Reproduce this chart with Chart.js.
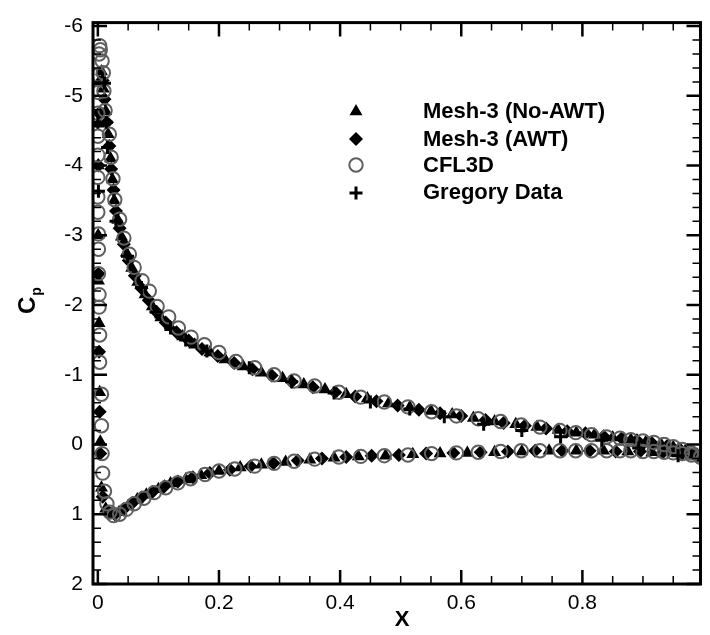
<!DOCTYPE html>
<html>
<head>
<meta charset="utf-8">
<script src="https://cdn.jsdelivr.net/npm/chart.js@4.4.1/dist/chart.umd.min.js"></script>
<style>
html,body{margin:0;padding:0;background:#fff;}
#c{display:block;}
</style>
</head>
<body>
<canvas id="c" width="710" height="635"></canvas>
<script>
// ---------------- data ----------------
const seriesNames = ["Mesh-3 (No-AWT)", "Mesh-3 (AWT)", "CFL3D", "Gregory Data"];
const xTickValues = [0, 0.2, 0.4, 0.6, 0.8, 1];
const xTickLabels = ["0", "0.2", "0.4", "0.6", "0.8", "1"];
const yTickValues = [-6, -5, -4, -3, -2, -1, 0, 1, 2];
const yTickLabels = ["-6", "-5", "-4", "-3", "-2", "-1", "0", "1", "2"];

// Mesh-3 (No-AWT)
const noAwtX = [0.99,0.97,0.95,0.93,0.905,0.88,0.85,0.82,0.79,0.76,0.725,0.69,0.655,0.62,0.585,0.55,0.515,0.48,0.445,0.41,0.375,0.34,0.305,0.27,0.24,0.21,0.185,0.16,0.14,0.12,0.104,0.09,0.078,0.066,0.056,0.047,0.039,0.033,0.027,0.024,0.021,0.017,0.013,0.009,0.006,
  0.002,0.001,0.0005,0.0005,0.001,0.002,0.003,0.004,0.006,
  0.013,0.022,0.035,0.05,0.065,0.08,0.1,0.12,0.145,0.17,0.2,0.235,0.27,0.31,0.35,0.39,0.43,0.475,0.52,0.565,0.61,0.655,0.7,0.745,0.79,0.835,0.875,0.915,0.95,0.98];
const noAwtCp = [0.15,0.09,0.04,0.0,-0.04,-0.07,-0.1,-0.14,-0.17,-0.21,-0.25,-0.29,-0.33,-0.38,-0.43,-0.48,-0.53,-0.59,-0.66,-0.72,-0.79,-0.86,-0.95,-1.03,-1.12,-1.22,-1.32,-1.43,-1.55,-1.68,-1.82,-1.98,-2.15,-2.33,-2.53,-2.75,-2.98,-3.22,-3.5,-3.8,-4.1,-4.45,-4.78,-5.1,-5.35,
  -5.2,-4.6,-4.0,-3.0,-2.35,-1.74,-0.75,-0.04,0.62,
  0.92,1.0,0.97,0.88,0.79,0.72,0.64,0.56,0.5,0.44,0.38,0.33,0.29,0.25,0.22,0.19,0.17,0.16,0.14,0.13,0.12,0.11,0.1,0.09,0.09,0.09,0.1,0.11,0.12,0.15];

// Mesh-3 (AWT)
const awtX = [0.985,0.96,0.94,0.915,0.89,0.865,0.835,0.805,0.775,0.74,0.705,0.67,0.64,0.6,0.565,0.53,0.495,0.46,0.425,0.392,0.355,0.32,0.287,0.255,0.225,0.198,0.172,0.15,0.13,0.112,0.097,0.084,0.072,0.061,0.051,0.043,0.036,0.03,0.026,0.022,0.019,0.015,0.011,0.008,
  0.002,0.001,0.001,0.002,0.003,0.004,0.008,
  0.017,0.028,0.042,0.057,0.072,0.09,0.11,0.132,0.157,0.185,0.218,0.252,0.29,0.33,0.37,0.41,0.452,0.497,0.542,0.587,0.632,0.677,0.722,0.767,0.812,0.855,0.895,0.933,0.965,0.99];
const awtCp = [0.13,0.06,0.02,-0.02,-0.06,-0.09,-0.12,-0.16,-0.19,-0.23,-0.27,-0.31,-0.35,-0.41,-0.45,-0.5,-0.56,-0.62,-0.69,-0.75,-0.82,-0.9,-0.99,-1.08,-1.17,-1.27,-1.37,-1.49,-1.61,-1.75,-1.9,-2.07,-2.24,-2.42,-2.64,-2.87,-3.1,-3.35,-3.65,-3.95,-4.28,-4.62,-4.95,-5.22,
  -4.75,-4.0,-2.45,-1.33,-0.47,0.13,0.75,
  0.96,1.0,0.93,0.84,0.76,0.68,0.6,0.53,0.47,0.41,0.36,0.31,0.27,0.23,0.2,0.18,0.16,0.15,0.13,0.12,0.11,0.1,0.09,0.09,0.09,0.1,0.1,0.11,0.13,0.16];

// CFL3D
const cfl3dX = [0.995,0.98,0.965,0.95,0.935,0.918,0.9,0.88,0.862,0.84,0.815,0.789,0.763,0.73,0.699,0.665,0.628,0.592,0.551,0.512,0.473,0.434,0.398,0.358,0.324,0.291,0.259,0.228,0.2,0.176,0.154,0.133,0.117,0.098,0.085,0.073,0.06,0.052,0.043,0.036,0.028,0.025,0.022,0.019,0.012,0.010,0.009,0.007,0.004,
  0.003,0.002,0.001,0.0,0.0,0.0,0.0,0.0,0.0,0.0,0.001,0.001,0.001,0.002,0.002,0.003,0.003,0.006,0.006,0.007,0.008,0.011,0.015,0.02,0.026,
  0.036,0.047,0.06,0.076,0.093,0.112,0.132,0.153,0.177,0.2,0.226,0.259,0.291,0.324,0.358,0.398,0.434,0.473,0.512,0.551,0.592,0.628,0.665,0.699,0.73,0.763,0.789,0.815,0.84,0.862,0.88,0.9,0.918,0.935,0.95,0.965,0.98,0.995];
const cfl3dCp = [0.18,0.12,0.07,0.03,0.0,-0.03,-0.05,-0.07,-0.09,-0.11,-0.14,-0.17,-0.2,-0.25,-0.28,-0.33,-0.37,-0.41,-0.47,-0.54,-0.61,-0.68,-0.75,-0.84,-0.91,-1.0,-1.1,-1.19,-1.32,-1.43,-1.54,-1.67,-1.83,-1.98,-2.2,-2.35,-2.54,-2.73,-2.96,-3.23,-3.51,-3.81,-4.12,-4.45,-4.79,-5.07,-5.33,-5.5,-5.66,
  -5.72,-5.6,-5.3,-5.05,-4.75,-4.42,-4.15,-3.83,-3.55,-3.33,-3.02,-2.8,-2.45,-2.15,-1.97,-1.57,-1.18,-0.72,-0.27,0.13,0.41,0.67,0.85,0.97,1.02,
  1.0,0.93,0.85,0.77,0.69,0.62,0.55,0.49,0.43,0.38,0.35,0.31,0.27,0.24,0.21,0.18,0.17,0.16,0.15,0.13,0.12,0.11,0.1,0.09,0.09,0.09,0.09,0.09,0.09,0.09,0.09,0.1,0.1,0.11,0.12,0.13,0.15,0.18];

// Gregory Data
const gregX = [0.0,0.001,0.011,0.014,0.016,0.03,0.049,0.072,0.096,0.12,0.145,0.18,0.25,0.32,0.39,0.45,0.515,0.572,0.637,0.70,0.764,0.832,0.893,0.958];
const gregCp = [-4.62,-3.63,-5.18,-4.62,-4.26,-3.2,-2.7,-2.25,-1.9,-1.67,-1.5,-1.34,-1.1,-0.9,-0.74,-0.61,-0.51,-0.4,-0.29,-0.2,-0.11,-0.06,0.05,0.16];

// --------------- chart -----------------
const toPts = (xs, ys) => xs.map((v, i) => ({x: v, y: ys[i]}));
const FONT = "'Liberation Sans', Arial, Helvetica, sans-serif";
const CIRCLE_GRAY = '#5f5f5f';

const framePlugin = {
  id: 'frame',
  afterDraw(chart) {
    const {ctx, chartArea: a, scales: {x, y}} = chart;
    ctx.save();
    ctx.strokeStyle = '#000';
    // minor ticks
    ctx.lineWidth = 1.5;
    ctx.beginPath();
    for (let k = 0; k <= 20; k++) {
      if (k % 4 === 0) continue;
      const px = x.getPixelForValue(k * 0.05);
      if (px < a.left || px > a.right) continue;
      ctx.moveTo(px, a.bottom); ctx.lineTo(px, a.bottom - 8);
      ctx.moveTo(px, a.top); ctx.lineTo(px, a.top + 8);
    }
    for (let k = -30; k <= 10; k++) {
      if (k % 5 === 0) continue;
      const py = y.getPixelForValue(k * 0.2);
      if (py < a.top || py > a.bottom) continue;
      ctx.moveTo(a.left, py); ctx.lineTo(a.left + 8, py);
      ctx.moveTo(a.right, py); ctx.lineTo(a.right - 8, py);
    }
    ctx.stroke();
    // major ticks
    ctx.lineWidth = 2.5;
    ctx.beginPath();
    xTickValues.forEach(v => {
      const px = x.getPixelForValue(v);
      if (px < a.left || px > a.right) return;
      ctx.moveTo(px, a.bottom); ctx.lineTo(px, a.bottom - 14);
      ctx.moveTo(px, a.top); ctx.lineTo(px, a.top + 14);
    });
    yTickValues.forEach(v => {
      const py = y.getPixelForValue(v);
      if (py < a.top - 1 || py > a.bottom + 1) return;
      ctx.moveTo(a.left, py); ctx.lineTo(a.left + 14, py);
      ctx.moveTo(a.right, py); ctx.lineTo(a.right - 14, py);
    });
    ctx.stroke();
    // frame
    ctx.lineWidth = 3;
    ctx.strokeRect(a.left, a.top, a.right - a.left, a.bottom - a.top);

    // axis titles
    ctx.fillStyle = '#000';
    ctx.font = "bold 22px " + FONT;
    ctx.textAlign = 'center';
    ctx.textBaseline = 'middle';
    ctx.fillText('X', 402, 620);

    ctx.save();
    ctx.translate(35, 314);
    ctx.rotate(-Math.PI / 2);
    ctx.textAlign = 'left';
    ctx.textBaseline = 'alphabetic';
    ctx.font = "bold 24px " + FONT;
    ctx.fillText('C', 0, 0);
    const cw = ctx.measureText('C').width;
    ctx.font = "bold 14px " + FONT;
    ctx.fillText('p', cw + 1, 6);
    ctx.restore();

    // legend
    const sx = 356;
    const rows = [111.5, 139, 165, 193];
    const textBase = [118, 146, 171.5, 199];
    // triangle
    let r = 7.5, cx = sx, cy = rows[0];
    ctx.fillStyle = '#000';
    ctx.beginPath();
    ctx.moveTo(cx, cy - r);
    ctx.lineTo(cx + r * Math.sin(2 * Math.PI / 3), cy - r * Math.cos(2 * Math.PI / 3));
    ctx.lineTo(cx + r * Math.sin(4 * Math.PI / 3), cy - r * Math.cos(4 * Math.PI / 3));
    ctx.closePath(); ctx.fill();
    // diamond
    r = 7; cy = rows[1];
    ctx.beginPath();
    ctx.moveTo(cx - r, cy); ctx.lineTo(cx, cy - r); ctx.lineTo(cx + r, cy); ctx.lineTo(cx, cy + r);
    ctx.closePath(); ctx.fill();
    // circle
    cy = rows[2];
    ctx.strokeStyle = CIRCLE_GRAY; ctx.lineWidth = 2;
    ctx.beginPath(); ctx.arc(cx, cy, 6.7, 0, Math.PI * 2); ctx.stroke();
    // plus
    cy = rows[3];
    ctx.strokeStyle = '#000'; ctx.lineWidth = 3;
    ctx.beginPath();
    ctx.moveTo(cx - 6.5, cy); ctx.lineTo(cx + 6.5, cy);
    ctx.moveTo(cx, cy - 6.5); ctx.lineTo(cx, cy + 6.5);
    ctx.stroke();

    ctx.fillStyle = '#000';
    ctx.font = "bold 22px " + FONT;
    ctx.textAlign = 'left';
    ctx.textBaseline = 'alphabetic';
    seriesNames.forEach((n, i) => ctx.fillText(n, 423, textBase[i]));
    ctx.restore();
  }
};

new Chart(document.getElementById('c'), {
  type: 'scatter',
  data: {
    datasets: [
      {label: seriesNames[0], data: toPts(noAwtX, noAwtCp), pointStyle: 'triangle', pointRadius: 7.5,
       backgroundColor: '#000', borderColor: '#000', borderWidth: 0, order: 4},
      {label: seriesNames[1], data: toPts(awtX, awtCp), pointStyle: 'rectRot', pointRadius: 7,
       backgroundColor: '#000', borderColor: '#000', borderWidth: 0, order: 3},
      {label: seriesNames[2], data: toPts(cfl3dX, cfl3dCp), pointStyle: 'circle', pointRadius: 6.7,
       backgroundColor: 'rgba(0,0,0,0)', borderColor: CIRCLE_GRAY, borderWidth: 2, order: 2},
      {label: seriesNames[3], data: toPts(gregX, gregCp), pointStyle: 'cross', pointRadius: 6.5,
       backgroundColor: '#000', borderColor: '#000', borderWidth: 3, order: 1}
    ]
  },
  options: {
    responsive: false,
    animation: false,
    events: [],
    layout: {padding: {top: 16, right: 0, left: 0, bottom: 0}},
    plugins: {legend: {display: false}, tooltip: {enabled: false}},
    scales: {
      x: {
        type: 'linear', min: -0.008, max: 0.995,
        grid: {display: false, drawTicks: false},
        border: {display: false},
        afterBuildTicks: s => { s.ticks = xTickValues.filter(v => v <= 0.995).map(v => ({value: v})); },
        afterFit: s => { s.height = 51; },
        ticks: {
          padding: 7, color: '#000', font: {family: FONT, size: 21},
          maxRotation: 0, autoSkip: false,
          callback: v => xTickLabels[xTickValues.indexOf(v)]
        }
      },
      y: {
        type: 'linear', min: -6.05, max: 2, reverse: true,
        grid: {display: false, drawTicks: false},
        border: {display: false},
        afterBuildTicks: s => { s.ticks = yTickValues.map(v => ({value: v})); },
        afterFit: s => { s.width = 93; },
        ticks: {
          padding: 10, color: '#000', font: {family: FONT, size: 21},
          autoSkip: false,
          callback: v => yTickLabels[yTickValues.indexOf(v)]
        }
      }
    }
  },
  plugins: [framePlugin]
});
</script>
</body>
</html>
